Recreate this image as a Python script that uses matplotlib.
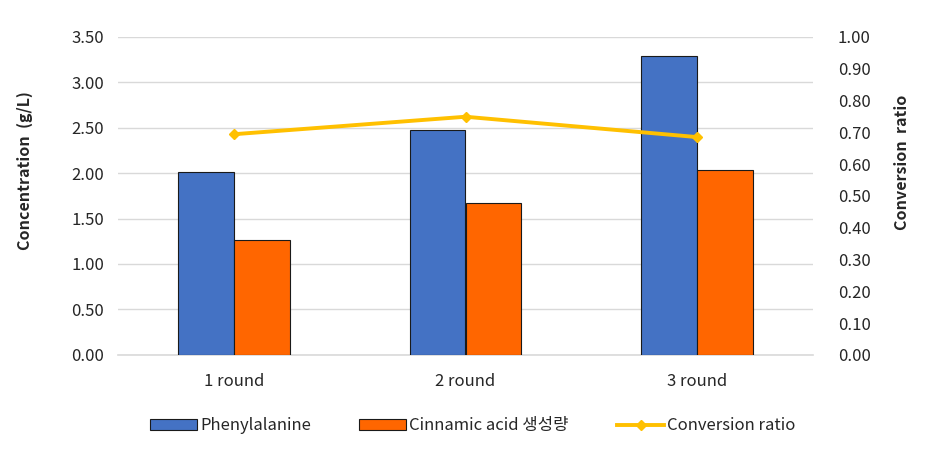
import numpy as np
import matplotlib.pyplot as plt
from matplotlib.ticker import FormatStrFormatter

plt.rcParams['font.family'] = ['Noto Sans CJK KR', 'DejaVu Sans']

# data
rounds = ["1 round", "2 round", "3 round"]
phenylalanine = [2.01, 2.475, 3.29]
cinnamic = [1.26, 1.67, 2.03]
conversion = [0.694, 0.749, 0.685]

blue = "#4472C4"
orange = "#FF6600"
yellow = "#FFC000"
text_col = "#262626"

fig = plt.figure(figsize=(9.31, 4.62), dpi=100)
ax = fig.add_axes([0.127, 0.232, 0.746, 0.688])
ax2 = ax.twinx()

x = np.arange(len(rounds))
w = 0.24
ax.bar(x - w / 2, phenylalanine, w, color=blue, edgecolor="#1a1a1a", linewidth=0.8,
       label="Phenylalanine", zorder=3)
ax.bar(x + w / 2, cinnamic, w, color=orange, edgecolor="#1a1a1a", linewidth=0.8,
       label="Cinnamic acid 생성량", zorder=3)
ax2.plot(x, conversion, color=yellow, linewidth=2.8, marker="D", markersize=5,
         label="Conversion ratio", zorder=4)

ax.set_xlim(-0.5, 2.5)
ax.set_ylim(0, 3.5)
ax.set_yticks(np.arange(0, 3.51, 0.5))
ax.yaxis.set_major_formatter(FormatStrFormatter("%.2f"))
ax2.set_ylim(0, 1.0)
ax2.set_yticks(np.arange(0, 1.01, 0.1))
ax2.yaxis.set_major_formatter(FormatStrFormatter("%.2f"))

ax.set_xticks(x)
ax.set_xticklabels(rounds)
ax.yaxis.grid(True, color="#d9d9d9", linewidth=1.0, zorder=0)
ax.set_axisbelow(True)

for a in (ax, ax2):
    for s in a.spines.values():
        s.set_visible(False)
    a.tick_params(length=0, labelsize=12, colors=text_col)
ax.spines["bottom"].set_visible(True)
ax.spines["bottom"].set_color("#d9d9d9")
ax.spines["bottom"].set_linewidth(1.2)
ax.tick_params(axis="y", pad=10)
ax.tick_params(axis="x", pad=13)
ax2.tick_params(axis="y", pad=18)

# axis titles sit a bit above the axes centre in the reference
fig.text(25 / 931, 1 - 171 / 462, "Concentration  (g/L)", rotation=90, ha="center", va="center",
         fontsize=11.5, fontweight="bold", color=text_col)
fig.text(902 / 931, 1 - 162 / 462, "Conversion  ratio", rotation=90, ha="center", va="center",
         fontsize=11.5, fontweight="bold", color=text_col)

h1, l1 = ax.get_legend_handles_labels()
h2, l2 = ax2.get_legend_handles_labels()
fig.legend(h1 + h2, l1 + l2, loc="center", bbox_to_anchor=(0.508, 0.078), ncol=3,
           frameon=False, fontsize=12, columnspacing=2.9, handlelength=2.8,
           handletextpad=0.2, labelcolor=text_col)

fig.savefig("out.png", dpi=100)
